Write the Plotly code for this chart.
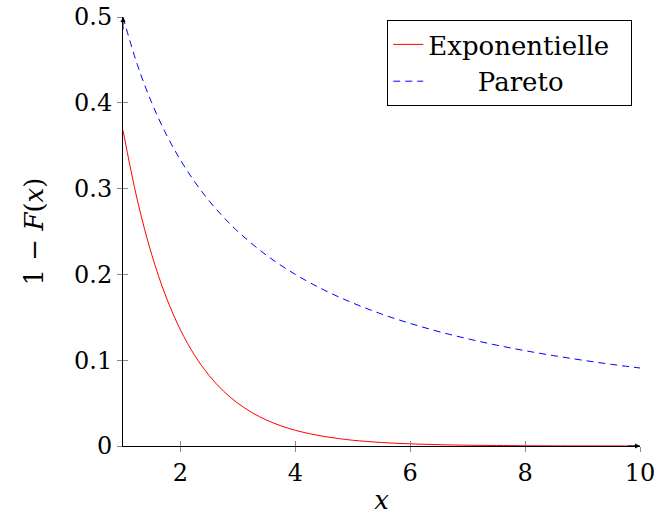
import plotly.graph_objects as go

# Exponentielle: 1 - F(x)
x_exp = [1, 1.25, 1.5, 1.75, 2, 2.25, 2.5, 2.75, 3, 3.25, 3.5, 3.75, 4, 4.25, 4.5, 4.75,
         5, 5.5, 6, 6.5, 7, 7.5, 8, 9, 10]
y_exp = [0.3679, 0.2865, 0.2231, 0.1738, 0.1353, 0.1054, 0.0821, 0.0639, 0.0498, 0.0388,
         0.0302, 0.0235, 0.0183, 0.0143, 0.0111, 0.0087, 0.0067, 0.0041, 0.0025, 0.0015,
         0.0009, 0.0006, 0.0003, 0.0001, 0.00005]

# Pareto: 1 - F(x)
x_par = [1, 1.25, 1.5, 1.75, 2, 2.25, 2.5, 2.75, 3, 3.5, 4, 4.5, 5, 5.5, 6, 6.5, 7,
         7.5, 8, 8.5, 9, 9.5, 10]
y_par = [0.5, 0.4444, 0.4, 0.3636, 0.3333, 0.3077, 0.2857, 0.2667, 0.25, 0.2222, 0.2,
         0.1818, 0.1667, 0.1538, 0.1429, 0.1333, 0.125, 0.1176, 0.1111, 0.1053, 0.1,
         0.0952, 0.0909]

x_ticks = [2, 4, 6, 8, 10]
y_ticks = [0, 0.1, 0.2, 0.3, 0.4, 0.5]
y_tick_labels = ["0", "0.1", "0.2", "0.3", "0.4", "0.5"]

FONT = "DejaVu Serif, Liberation Serif, serif"

fig = go.Figure()
fig.add_trace(go.Scatter(x=x_exp, y=y_exp, mode="lines", name="Exponentielle\u00a0\u00a0",
                         line=dict(color="red", width=1, shape="spline")))
fig.add_trace(go.Scatter(x=x_par, y=y_par, mode="lines",
                         name="\u00a0\u00a0\u00a0\u00a0\u00a0\u00a0Pareto",
                         line=dict(color="blue", width=1, dash="7px,5px", shape="spline")))

axis_common = dict(showgrid=False, zeroline=False, ticklen=5, tickcolor="#888888",
                   tickwidth=1, automargin=False, ticklabeloverflow="allow")

fig.update_layout(
    width=657, height=515,
    margin=dict(l=123, r=17, t=17, b=69),
    paper_bgcolor="white", plot_bgcolor="white",
    font=dict(family=FONT, size=24, color="black"),
    showlegend=True,
    legend=dict(x=0.985, y=0.993, xanchor="right", yanchor="top",
                bordercolor="black", borderwidth=1, bgcolor="white",
                font=dict(size=26, family=FONT), tracegroupgap=0,
                itemwidth=30),
    xaxis=dict(range=[1, 10], tickvals=x_ticks, ticks="outside",
               showline=True, linecolor="black", linewidth=1,
               title=dict(text="<i>x</i>", standoff=6, font=dict(size=26)),
               tickfont=dict(size=24), **axis_common),
    yaxis=dict(range=[0, 0.5], tickvals=y_ticks, ticktext=y_tick_labels, ticks="outside",
               showline=True, linecolor="black", linewidth=1,
               title=dict(text="1 \u2212 <i>F</i>(<i>x</i>)", standoff=22, font=dict(size=26)),
               tickfont=dict(size=24), **axis_common),
    xaxis2=dict(range=[1, 10], tickvals=x_ticks, ticks="inside", overlaying="x",
                side="bottom", showticklabels=False, showline=False, anchor="y",
                matches="x", **axis_common),
    yaxis2=dict(range=[0, 0.5], tickvals=y_ticks, ticks="inside", overlaying="y",
                side="left", showticklabels=False, showline=False, anchor="x",
                matches="y", **axis_common),
)

fig.add_trace(go.Scatter(x=[1], y=[0], xaxis="x2", yaxis="y2", mode="markers",
                         marker=dict(opacity=0), showlegend=False, hoverinfo="skip"))

fig.add_annotation(x=10, y=0, xref="x", yref="y", ax=-14, ay=0, axref="pixel", ayref="pixel",
                   showarrow=True, arrowhead=2, arrowsize=1, arrowwidth=1, arrowcolor="black", text="")
fig.add_annotation(x=1, y=0.5, xref="x", yref="y", ax=0, ay=14, axref="pixel", ayref="pixel",
                   showarrow=True, arrowhead=2, arrowsize=1, arrowwidth=1, arrowcolor="black", text="")

fig.write_html("out.html", config={"displayModeBar": False},
               post_script="document.body.style.margin='0';document.body.style.overflow='hidden';")
